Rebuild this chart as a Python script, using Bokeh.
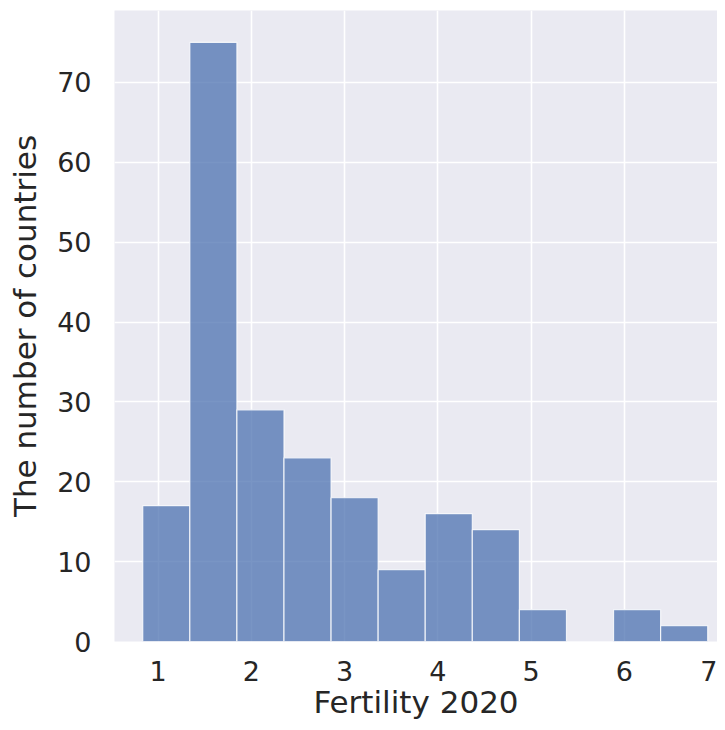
from bokeh.plotting import figure
from bokeh.models import Range1d, FixedTicker, ColumnDataSource
from bokeh.embed import file_html
from bokeh.resources import INLINE

# Histogram data
bin_edges = [0.835, 1.340, 1.845, 2.350, 2.855, 3.360, 3.865, 4.370, 4.875, 5.380, 5.885, 6.390, 6.895]
counts = [17, 75, 29, 23, 18, 9, 16, 14, 4, 0, 4, 2]
x_ticks = [1, 2, 3, 4, 5, 6, 7]
y_ticks = [0, 10, 20, 30, 40, 50, 60, 70]
x_label = "Fertility 2020"
y_label = "The number of countries"

src = ColumnDataSource(dict(
    left=bin_edges[:-1],
    right=bin_edges[1:],
    top=counts,
    bottom=[0] * len(counts),
))

FONT = "DejaVu Sans"
TXT = "#262626"

p = figure(width=717, height=722, output_backend="svg", toolbar_location=None,
           x_range=Range1d(0.532, 7.0), y_range=Range1d(0, 79),
           min_border_left=114, min_border_right=0, min_border_top=10, min_border_bottom=80)

p.background_fill_color = "#EAEAF2"
p.border_fill_color = "white"
p.outline_line_color = None

p.quad(left="left", right="right", top="top", bottom="bottom", source=src,
       fill_color="#4C72B0", fill_alpha=0.75, line_color="white", line_width=1.2, line_alpha=0.8)

for ax in (p.xaxis[0], p.yaxis[0]):
    ax.axis_line_color = None
    ax.major_tick_line_color = None
    ax.minor_tick_line_color = None
    ax.major_tick_out = 0
    ax.major_tick_in = 0
    ax.minor_tick_out = 0
    ax.major_label_text_font = FONT
    ax.major_label_text_font_size = "27px"
    ax.major_label_text_color = TXT
    ax.axis_label_text_font = FONT
    ax.axis_label_text_font_size = "31px"
    ax.axis_label_text_font_style = "normal"
    ax.axis_label_text_color = TXT

p.xaxis.ticker = FixedTicker(ticks=x_ticks)
p.yaxis.ticker = FixedTicker(ticks=y_ticks)
p.xaxis.axis_label = x_label
p.yaxis.axis_label = y_label
p.xaxis.major_label_standoff = 19
p.xaxis.axis_label_standoff = 0
p.yaxis.major_label_standoff = 23
p.yaxis.axis_label_standoff = 11

p.xgrid.ticker = FixedTicker(ticks=x_ticks)
p.ygrid.ticker = FixedTicker(ticks=y_ticks)
p.grid.grid_line_color = "white"
p.grid.grid_line_width = 1.6

open("out.html", "w").write(file_html(p, INLINE))
